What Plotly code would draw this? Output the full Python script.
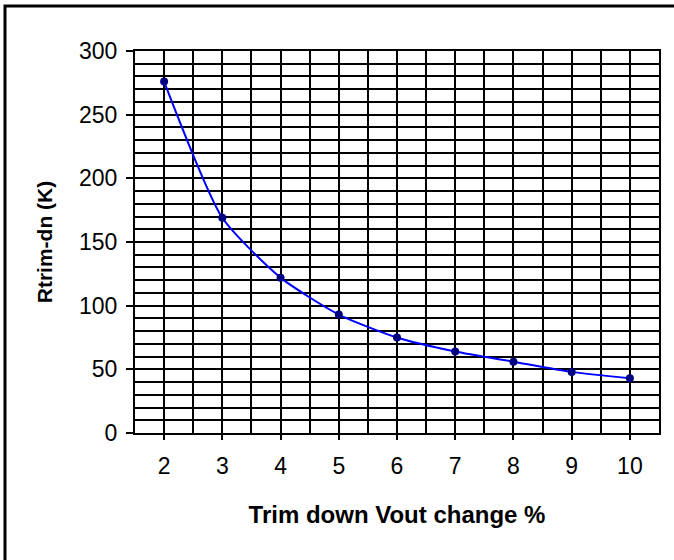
import plotly.graph_objects as go

trim_pct = [2, 3, 4, 5, 6, 7, 8, 9, 10]
rtrim_k = [276, 169, 122, 93, 75, 64, 56, 48, 43]
y_tick_vals = [0, 50, 100, 150, 200, 250, 300]
y_tick_text = ["0", "50", "100", "150", "200", "250", "300"]

W, H = 674, 560
L, R, T, B = 135, 15, 51, 127
pw = W - L - R
ph = H - T - B

fig = go.Figure()
fig.add_trace(go.Scatter(
    x=trim_pct, y=rtrim_k, mode="lines+markers",
    line=dict(color="#0000FF", width=2, shape="spline", smoothing=0.6),
    marker=dict(color="#000080", size=8),
    showlegend=False,
))

fig.update_xaxes(
    range=[1.5, 10.5], tickvals=trim_pct, ticktext=[str(v) for v in trim_pct],
    ticks="outside", ticklen=5, tickwidth=2, tickcolor="black",
    ticklabelstandoff=6,
    showgrid=True, gridcolor="black", gridwidth=2,
    minor=dict(dtick=0.5, tick0=1.5, showgrid=True, gridcolor="black", gridwidth=2, ticks=""),
    showline=True, linecolor="black", linewidth=2, mirror=True,
    zeroline=False,
    tickfont=dict(family="Arial, Liberation Sans", size=23, color="black"),
    title=dict(text="<b>Trim down Vout change %</b>", standoff=29,
               font=dict(family="Arial, Liberation Sans", size=24, color="black")),
)
fig.update_yaxes(
    range=[0, 300], tickvals=y_tick_vals, ticktext=y_tick_text,
    ticks="outside", ticklen=7, tickwidth=2, tickcolor="black",
    ticklabelstandoff=4,
    showgrid=True, gridcolor="black", gridwidth=2,
    minor=dict(dtick=10, tick0=0, showgrid=True, gridcolor="black", gridwidth=2, ticks=""),
    showline=True, linecolor="black", linewidth=2, mirror=True,
    zeroline=False,
    tickfont=dict(family="Arial, Liberation Sans", size=23, color="black"),
    title=dict(text="<b>Rtrim-dn (K)</b>", standoff=21,
               font=dict(family="Arial, Liberation Sans", size=21, color="black")),
)

# outer chart border (extends past the right and bottom edges)
fig.add_shape(type="rect", xref="paper", yref="paper",
              x0=(5 - L) / pw, x1=(W + 10 - L) / pw,
              y0=-(H + 10 - T - ph) / ph, y1=1 + (T - 6) / ph,
              line=dict(color="black", width=3), fillcolor="rgba(0,0,0,0)", layer="below")

fig.update_layout(
    width=W, height=H,
    margin=dict(l=L, r=R, t=T, b=B),
    paper_bgcolor="white", plot_bgcolor="white",
)
fig.write_html("out.html", config={"displayModeBar": False},
               post_script="document.body.style.margin='0';document.body.style.overflow='hidden';")
